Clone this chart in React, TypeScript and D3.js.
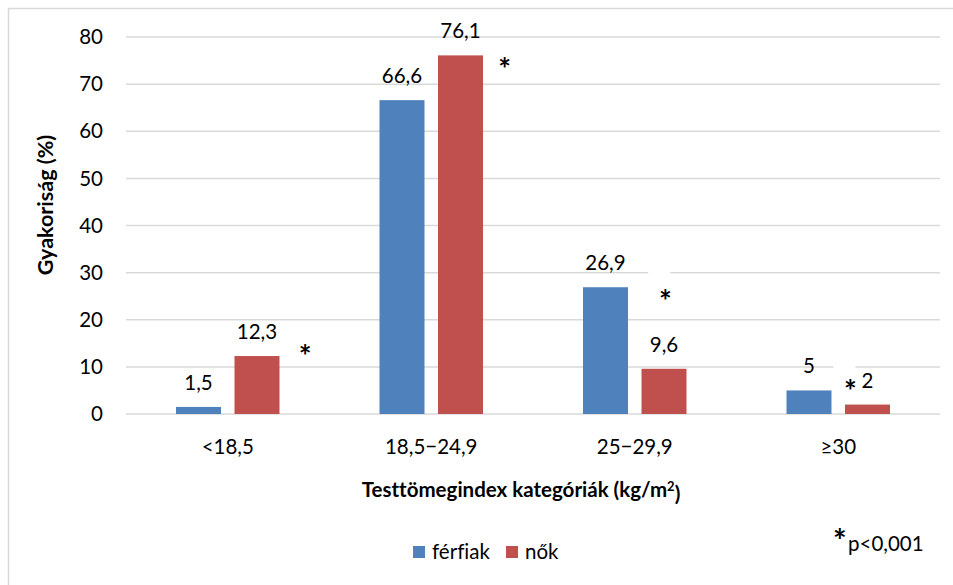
import React from "react";
import * as d3 from "d3";

const categories = ["<18,5", "18,5\u221224,9", "25\u221229,9", "\u226530"];
const series = ["férfiak", "nők"];
const ferfiak = [1.5, 66.6, 26.9, 5];
const nok = [12.3, 76.1, 9.6, 2];
const yTicks = [0, 10, 20, 30, 40, 50, 60, 70, 80];
// significance markers: category index, level (data units), horizontal position as fraction of band
const starCats = [0, 1, 2, 3];
const starLevels = [13.6, 74.5, 25.3, 6.2];
const starPos = [0.88, 0.86, 0.65, 0.56];
const colors = ["#4f81bd", "#c0504d"];

const W = 953;
const H = 585;
const FONT = "Lato, 'Open Sans', sans-serif";
const FS = 20.5;

export default function App() {
  const x0 = d3.scaleBand<string>().domain(categories).range([126, 940]).paddingInner(0.4914).paddingOuter(0.2457);
  const x1 = d3.scaleBand<string>().domain(series).range([0, x0.bandwidth()]).paddingInner(0.231);
  const y = d3.scaleLinear().domain([0, 80]).range([414, 37]);
  const step = x0.step();
  const vals = [ferfiak, nok];
  const starX = (i: number) => (x0(categories[starCats[i]]) as number) - (step - x0.bandwidth()) / 2 + starPos[i] * step;

  return (
    <svg
      width={W}
      height={H}
      style={{ position: "absolute", left: 0, top: 0, background: "#fff", fontVariantLigatures: "none" }}
      fontFamily={FONT}
    >
      <rect x={8.5} y={8.5} width={1000} height={1000} fill="#fff" stroke="#d9d9d9" strokeWidth={1.5} />
      {yTicks.map((t) => (
        <g key={t}>
          <line x1={126} x2={940} y1={y(t)} y2={y(t)} stroke="#d9d9d9" strokeWidth={1.5} />
          <text x={103} y={y(t)} dy="0.35em" textAnchor="end" fontSize={FS} fill="#000">
            {t}
          </text>
        </g>
      ))}
      {starCats.map((c, i) => {
        const cx = starX(i);
        const cy = y(starLevels[i]);
        return <rect key={"sb" + i} x={cx - 17} y={cy - 24} width={22} height={34} fill="#fff" />;
      })}
      {series.map((s, si) =>
        categories.map((c, ci) => {
          const v = vals[si][ci];
          const bx = (x0(c) as number) + (x1(s) as number);
          return (
            <g key={s + c}>
              <rect x={bx} y={y(v)} width={x1.bandwidth()} height={y(0) - y(v)} fill={colors[si]} />
              <text x={bx + x1.bandwidth() / 2} y={y(v) - 17} textAnchor="middle" fontSize={FS} fill="#000">
                {String(v).replace(".", ",")}
              </text>
            </g>
          );
        })
      )}
      {starCats.map((c, i) => {
        const cx = starX(i);
        const cy = y(starLevels[i]);
        return (
          <text key={"s" + i} x={cx} y={cy} dy="0.58em" textAnchor="middle" fontSize={30} fontWeight="bold" fill="#000">
            *
          </text>
        );
      })}
      {categories.map((c) => (
        <text key={c} x={(x0(c) as number) + x0.bandwidth() / 2} y={447} dy="0.35em" textAnchor="middle" fontSize={FS} fill="#000">
          {c}
        </text>
      ))}
      <text x={521} y={490} dy="0.35em" textAnchor="middle" fontSize={20.5} fontWeight="bold" fill="#000">
        Testtömegindex kategóriák (kg/m<tspan dy="-0.45em" fontSize={13}>2</tspan><tspan dy="0.45em">)</tspan>
      </text>
      <text transform={`translate(45,205) rotate(-90)`} dy="0.35em" textAnchor="middle" fontSize={21.5} fontWeight="bold" fill="#000">
        Gyakoriság (%)
      </text>
      {series.map((s, i) => {
        const lx = [413, 506][i];
        return (
          <g key={"l" + s}>
            <rect x={lx} y={546} width={12} height={12} fill={colors[i]} />
            <text x={lx + 19} y={552} dy="0.35em" fontSize={FS} fill="#000">
              {s}
            </text>
          </g>
        );
      })}
      <text x={833} y={553} textAnchor="start" fontSize={32} fontWeight="bold" fill="#000">*</text>
      <text x={848} y={551} fontSize={FS} fill="#000">p&lt;0,001</text>
    </svg>
  );
}
